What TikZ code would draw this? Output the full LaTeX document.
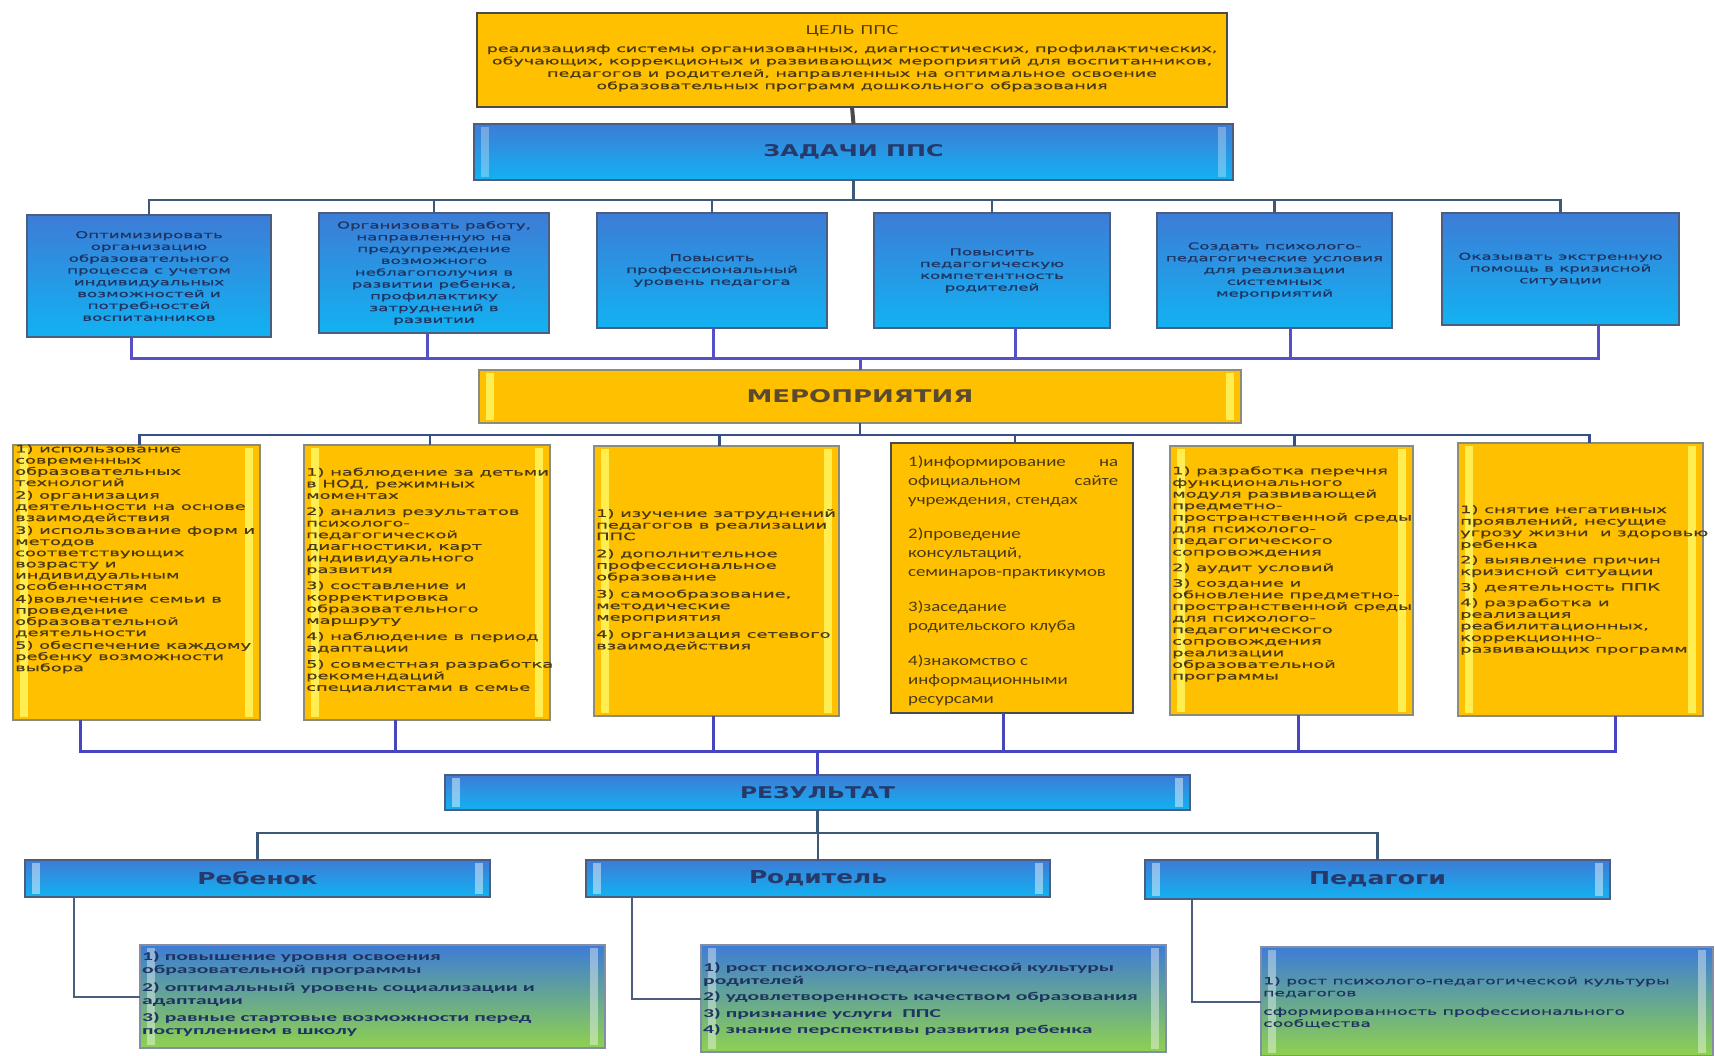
\documentclass[tikz,border=0pt]{standalone}
\usepackage{fontspec}
\usepackage{graphicx}
\setmainfont{DejaVu Sans}
\newfontfamily\sx[FakeStretch=1.75,FakeBold=0.7]{DejaVu Sans}
\newfontfamily\cx[FakeStretch=1.8]{Carlito}
\newfontfamily\cy[FakeStretch=1.3]{Carlito}
\usetikzlibrary{calc}
\definecolor{gold}{HTML}{FFC000}
\definecolor{ylight}{HTML}{FFF35C}
\definecolor{bluetop}{HTML}{3D7CD6}
\definecolor{bluebot}{HTML}{12B2F2}
\definecolor{greenbot}{HTML}{8FD14F}
\definecolor{bbdr}{HTML}{4B5E80}
\definecolor{ybdr}{HTML}{8C8C7A}
\definecolor{topbdr}{HTML}{4A4A4A}
\definecolor{btext}{HTML}{1E3462}
\definecolor{ytext}{HTML}{4A3A12}
\definecolor{hblue}{HTML}{26396A}
\definecolor{hyel}{HTML}{5A4A2E}
\definecolor{lslate}{HTML}{3E5878}
\definecolor{lpurple}{HTML}{5650C8}
\definecolor{lpurple2}{HTML}{4646BE}
\tikzset{
  box/.style={line width=1.5pt, inner sep=0pt, outer sep=0pt},
  bluebox/.style={box, draw=bbdr, top color=bluetop, bottom color=bluebot},
  ybox/.style={box, draw=ybdr, fill=gold},
  grbox/.style={box, draw=bbdr!70, top color=bluetop, bottom color=greenbot},
  tasktxt/.style={align=center, text=btext, font=\sx\fontsize{9.5}{11.8}\selectfont},
  evtxt/.style={inner sep=0pt, anchor=west, align=left, text=ytext, font=\sx\fontsize{10.2}{11.6}\selectfont},
  dtxt/.style={inner sep=0pt, anchor=west, align=left, text=btext},
  cA/.style={draw=lslate, line width=2.5pt},
  cB/.style={draw=lpurple, line width=3pt},
  cC/.style={draw=lslate!90!blue, line width=2.5pt},
  cD/.style={draw=lpurple2, line width=3pt},
  cE/.style={draw=bbdr, line width=2pt},
}
\newcommand\gloss[3]{%
  \fill[#2, opacity=#3] ($(#1.north west)+(7,3)$) rectangle ($(#1.south west)+(15,-3)$);
  \fill[#2, opacity=#3] ($(#1.north east)+(-15,3)$) rectangle ($(#1.south east)+(-7,-3)$);}
\begin{document}
\begin{tikzpicture}[x=1pt,y=-1pt]
\useasboundingbox[fill=white] (0,0) rectangle (1715,1056);

% ---------- goal and tasks header
\node[ybox, draw=topbdr, line width=2.5pt, minimum width=750, minimum height=94] (goal) at (852,60) {};
\node[bluebox, minimum width=759, minimum height=56] (zad) at (853.5,152)
  {\textcolor{hblue}{\resizebox{180pt}{12pt}{\bfseries ЗАДАЧИ ППС}}};

% ---------- tasks
\node[bluebox, tasktxt, minimum width=244, minimum height=122] (t1) at (149,276)
  {Оптимизировать\\организацию\\образовательного\\процесса с учетом\\индивидуальных\\возможностей и\\потребностей\\воспитанников};
\node[bluebox, tasktxt, minimum width=230, minimum height=120] (t2) at (434,273)
  {Организовать работу,\\направленную на\\предупреждение\\возможного\\неблагополучия в\\развитии ребенка,\\профилактику\\затруднений в\\развитии};
\node[bluebox, tasktxt, minimum width=230, minimum height=115] (t3) at (712,270.5)
  {Повысить\\профессиональный\\уровень педагога};
\node[bluebox, tasktxt, minimum width=236, minimum height=115] (t4) at (992,270.5)
  {Повысить\\педагогическую\\компетентность\\родителей};
\node[bluebox, tasktxt, minimum width=235, minimum height=115] (t5) at (1274.5,270.5)
  {Создать психолого-\\педагогические условия\\для реализации\\системных\\мероприятий};
\node[bluebox, tasktxt, minimum width=237, minimum height=112] (t6) at (1560.5,269)
  {Оказывать экстренную\\помощь в кризисной\\ситуации};

% ---------- events header
\node[ybox, minimum width=762, minimum height=53] (mer) at (860,396.5)
  {\textcolor{hyel}{\resizebox{227pt}{13pt}{\bfseries МЕРОПРИЯТИЯ}}};

% ---------- event boxes
\node[ybox, minimum width=247, minimum height=275] (e1) at (136.5,582.5) {};
\node[ybox, minimum width=246, minimum height=275] (e2) at (427,582.5) {};
\node[ybox, minimum width=245, minimum height=270] (e3) at (716.5,581) {};
\node[ybox, draw=topbdr, line width=2.5pt, minimum width=242, minimum height=270] (e4) at (1012,578) {};
\node[ybox, minimum width=243, minimum height=269] (e5) at (1291.5,580.5) {};
\node[ybox, minimum width=245, minimum height=273] (e6) at (1580.5,579.5) {};

% ---------- result
\node[bluebox, minimum width=745, minimum height=35] (res) at (817.5,792.5)
  {\textcolor{hblue}{\resizebox{155pt}{12pt}{\bfseries РЕЗУЛЬТАТ}}};
\node[bluebox, minimum width=465, minimum height=37] (r1) at (257.5,878.5)
  {\textcolor{hblue}{\resizebox{120pt}{13pt}{\bfseries Ребенок}}};
\node[bluebox, minimum width=464, minimum height=37] (r2) at (818,878.5)
  {\textcolor{hblue}{\resizebox{138pt}{13pt}{\bfseries Родитель}}};
\node[bluebox, minimum width=465, minimum height=39] (r3) at (1377.5,879.5)
  {\textcolor{hblue}{\resizebox{137pt}{13pt}{\bfseries Педагоги}}};

\node[grbox, minimum width=465, minimum height=103] (d1) at (372.5,996.5) {};
\node[grbox, minimum width=465, minimum height=107] (d2) at (933.5,998.5) {};
\node[grbox, minimum width=452, minimum height=109] (d3) at (1487,1001.5) {};

% ---------- glossy stripes
\gloss{mer}{ylight}{0.9}
\gloss{e1}{ylight}{0.9}
\gloss{e2}{ylight}{0.9}
\gloss{e3}{ylight}{0.9}
\gloss{e5}{ylight}{0.9}
\gloss{e6}{ylight}{0.9}
\gloss{zad}{white}{0.3}
\gloss{res}{white}{0.45}
\gloss{r1}{white}{0.45}
\gloss{r2}{white}{0.45}
\gloss{r3}{white}{0.45}
\gloss{d1}{white}{0.4}
\gloss{d2}{white}{0.4}
\gloss{d3}{white}{0.4}

% ---------- connectors
\coordinate (bus1) at (853.5,200);
\coordinate (bus2) at (860,358);
\coordinate (bus3) at (860,435);
\coordinate (bus4) at (817.5,751);
\coordinate (bus5) at (817.5,833);
\draw[topbdr, line width=4pt] (goal.south) -- (zad.north);
\draw[cA] (zad.south) -- (bus1);
\foreach \t in {t1,t2,t3,t4,t5,t6} \draw[cA] (\t.north) |- (bus1);
\draw[cB] ($(t1.south)+(-18,0)$) |- (bus2);
\draw[cB] ($(t2.south)+(-7,0)$) |- (bus2);
\draw[cB] ($(t3.south)+(1,0)$) |- (bus2);
\draw[cB] ($(t4.south)+(23,0)$) |- (bus2);
\draw[cB] ($(t5.south)+(16,0)$) |- (bus2);
\draw[cB] ($(t6.south)+(38,0)$) |- (bus2);
\draw[cB] (bus2) -- (mer.north);
\draw[cC] (mer.south) -- (bus3);
\foreach \e in {e1,e2,e3,e4,e5} \draw[cC] ($(\e.north)+(3,0)$) |- (bus3);
\draw[cC] ($(e6.north)+(9,0)$) |- (bus3);
\draw[cD] ($(e1.south)+(-56.5,0)$) |- (bus4);
\draw[cD] ($(e2.south)+(-32,0)$) |- (bus4);
\draw[cD] ($(e3.south)+(-3.5,0)$) |- (bus4);
\draw[cD] ($(e4.south)+(-9,0)$) |- (bus4);
\draw[cD] ($(e5.south)+(6.5,0)$) |- (bus4);
\draw[cD] ($(e6.south)+(34.5,0)$) |- (bus4);
\draw[cD] (bus4) -- (res.north);
\draw[cA] (res.south) -- (bus5);
\foreach \r in {r1,r2,r3} \draw[cA] (\r.north) |- (bus5);
\draw[cE] ($(r1.south west)+(49,0)$) |- (d1.west);
\draw[cE] ($(r2.south west)+(46,0)$) |- (d2.west);
\draw[cE] ($(r3.south west)+(47,0)$) |- (d3.west);

% ---------- texts
\node[text=ytext, inner sep=0pt] (goalh) at (852,31) {\resizebox{93pt}{9pt}{ЦЕЛЬ ППС}};
\node[align=center, inner sep=0pt, text=ytext, font=\sx\fontsize{10}{12.4}\selectfont] (goalt) at (852,68)
  {реализацияф системы организованных, диагностических, профилактических,\\
   обучающих, коррекционых и развивающих мероприятий для воспитанников,\\
   педагогов и родителей, направленных на оптимальное освоение\\
   образовательных программ дошкольного образования};

\node[evtxt, font=\sx\fontsize{10.2}{11.2}\selectfont] (e1t) at (15,559)
  {1) использование\\современных\\образовательных\\технологий\\[1.5pt]
   2) организация\\деятельности на основе\\взаимодействия\\[1.5pt]
   3) использование форм и\\методов\\соответствующих\\возрасту и\\индивидуальным\\особенностям\\[1.5pt]
   4)вовлечение семьи в\\проведение\\образовательной\\деятельности\\[1.5pt]
   5) обеспечение каждому\\ребенку возможности\\выбора};
\node[evtxt] (e2t) at (306,580)
  {1) наблюдение за детьми\\в НОД, режимных\\моментах\\[4.5pt]
   2) анализ результатов\\психолого-\\педагогической\\диагностики, карт\\индивидуального\\развития\\[4.5pt]
   3) составление и\\корректировка\\образовательного\\маршруту\\[4.5pt]
   4) наблюдение в период\\адаптации\\[4.5pt]
   5) совместная разработка\\рекомендаций\\специалистами в семье};
\node[evtxt] (e3t) at (596,580)
  {1) изучение затруднений\\педагогов в реализации\\ППС\\[5.5pt]
   2) дополнительное\\профессиональное\\образование\\[5.5pt]
   3) самообразование,\\методические\\мероприятия\\[5.5pt]
   4) организация сетевого\\взаимодействия};
\node[evtxt, font=\cy\fontsize{14.5}{19}\selectfont] (e4t) at (908,581)
  {\makebox[210pt]{1)информирование\hfill на}\\
   \makebox[210pt]{официальном\hfill сайте}\\
   учреждения, стендах\\[15pt]
   2)проведение\\консультаций,\\семинаров-практикумов\\[16pt]
   3)заседание\\родительского клуба\\[16pt]
   4)знакомство с\\информационными\\ресурсами};
\node[evtxt] (e5t) at (1172,574)
  {1) разработка перечня\\функционального\\модуля развивающей\\предметно-\\пространственной среды\\для психолого-\\педагогического\\сопровождения\\[4pt]
   2) аудит условий\\[4pt]
   3) создание и\\обновление предметно-\\пространственной среды\\для психолого-\\педагогического\\сопровождения\\реализации\\образовательной\\программы};
\node[evtxt] (e6t) at (1460,580)
  {1) снятие негативных\\проявлений, несущие\\угрозу жизни~ и здоровью\\ребенка\\[4pt]
   2) выявление причин\\кризисной ситуации\\[4pt]
   3) деятельность ППК\\[4pt]
   4) разработка и\\реализация\\реабилитационных,\\коррекционно-\\развивающих программ};

\node[dtxt, font=\cx\bfseries\fontsize{12}{13}\selectfont] (d1t) at (142,994)
  {1) повышение уровня освоения\\образовательной программы\\[4.5pt]
   2) оптимальный уровень социализации и\\адаптации\\[4.5pt]
   3) равные стартовые возможности перед\\поступлением в школу};
\node[dtxt, font=\cx\bfseries\fontsize{12}{13}\selectfont] (d2t) at (703,999)
  {1) рост психолого-педагогической культуры\\родителей\\[3.5pt]
   2) удовлетворенность качеством образования\\[3.5pt]
   3) признание услуги~ ППС\\[3.5pt]
   4) знание перспективы развития ребенка};
\node[dtxt, font=\sx\fontsize{9.8}{12}\selectfont] (d3t) at (1263,1002.5)
  {1) рост психолого-педагогической культуры\\педагогов\\[6.5pt]
   сформированность профессионального\\сообщества};
\end{tikzpicture}
\end{document}
